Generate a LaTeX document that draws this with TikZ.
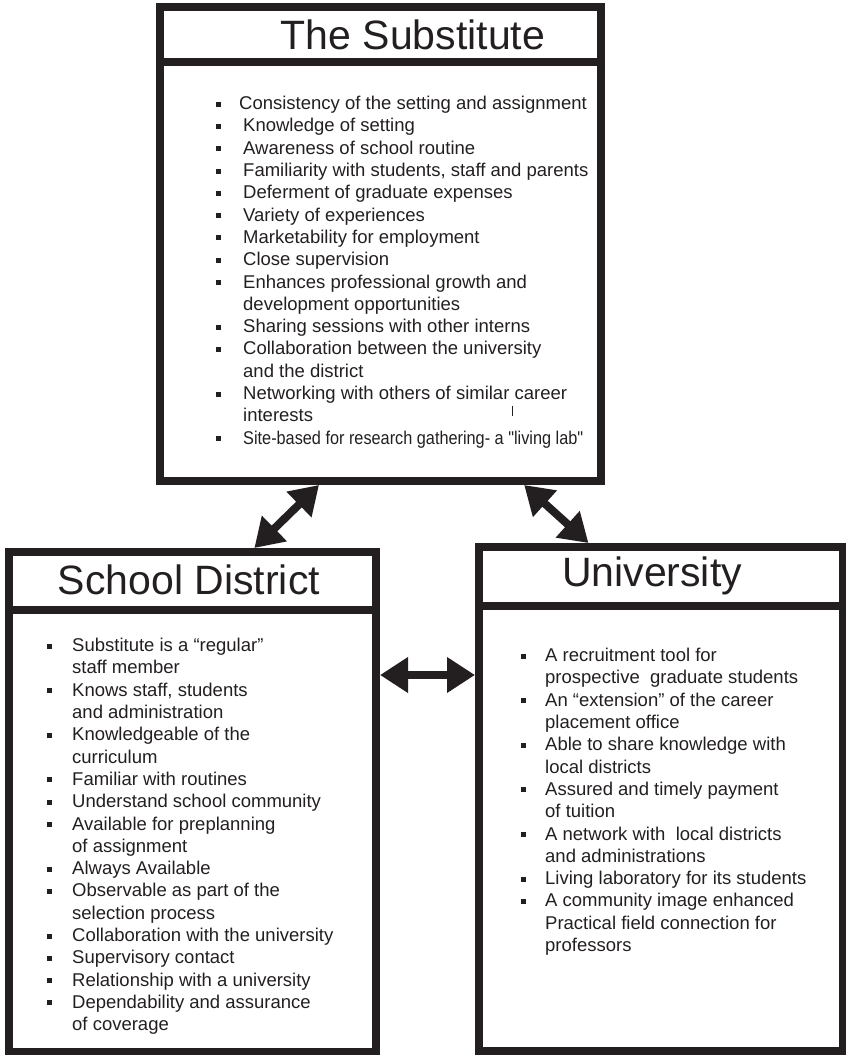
\documentclass[tikz,border=0pt]{standalone}
\usepackage{graphicx}
\usepackage{fontspec}
\setmainfont{Liberation Sans}
\usetikzlibrary{calc,arrows.meta}
\usetikzlibrary{positioning}
\definecolor{ink}{HTML}{231F20}

% square bullet followed by the gap to the item text
\newcommand{\sqb}[1]{\makebox[#1][l]{\rule[3pt]{5pt}{5pt}}}
% straight double quotes, kept out of the tex-text mapping
\newcommand{\sq}[1]{{\addfontfeature{Ligatures=TeXOff}"#1"}}

\begin{document}
\begin{tikzpicture}[x=1pt, y=-1pt,
    box/.style={draw=ink, line width=8pt, inner sep=0pt},
    head/.style={ink, font=\fontsize{41}{41}\selectfont},
    list/.style={ink, align=left, inner sep=0pt, anchor=north west, font=\fontsize{18.5}{22.3}\selectfont},
    link/.style={ink, line width=8pt, {Triangle[width=34pt,length=28pt]}-{Triangle[width=34pt,length=28pt]}}]
    \useasboundingbox (0,0) rectangle (846,1055);

    % Boxes
    \node[box, minimum width=441pt, minimum height=474pt] (sub) at (380.5,244) {};
    \node[box, minimum width=367pt, minimum height=500pt] (sd) at (192.5,802) {};
    \node[box, minimum width=364pt, minimum height=504pt] (uni) at (661,799) {};

    % Header rules
    \coordinate (subrule) at (0,62);
    \coordinate (sdrule) at (0,610);
    \coordinate (unirule) at (0,606);
    \draw[ink, line width=8pt] (sub.west |- subrule) -- (sub.east |- subrule);
    \draw[ink, line width=8pt] (sd.west |- sdrule) -- (sd.east |- sdrule);
    \draw[ink, line width=8pt] (uni.west |- unirule) -- (uni.east |- unirule);

    % Titles
    \node[head] (subtitle) at (413,35) {The Substitute};
    \node[head] (sdtitle) at (189,580) {School District};
    \node[head] (unititle) at (652,576) {University};

    % Lists
    \node[list] (sublist) at (216,96) {%
        \sqb{23pt}Consistency of the setting and assignment\\
        \sqb{27pt}Knowledge of setting\\
        \sqb{27pt}Awareness of school routine\\
        \sqb{27pt}Familiarity with students, staff and parents\\
        \sqb{27pt}Deferment of graduate expenses\\
        \sqb{27pt}Variety of experiences\\
        \sqb{27pt}Marketability for employment\\
        \sqb{27pt}Close supervision\\
        \sqb{27pt}Enhances professional growth and\\
        \hspace*{27pt}development opportunities\\
        \sqb{27pt}Sharing sessions with other interns\\
        \sqb{27pt}Collaboration between the university\\
        \hspace*{27pt}and the district\\
        \sqb{27pt}Networking with others of similar career\\
        \hspace*{27pt}interests\\
        \sqb{27pt}\scalebox{0.88}[1]{Site-based for research gathering- a \sq{living lab}}};
    \node[list] (sdlist) at (47,638) {%
        \sqb{25pt}Substitute is a “regular”\\
        \hspace*{25pt}staff member\\
        \sqb{25pt}Knows staff, students\\
        \hspace*{25pt}and administration\\
        \sqb{25pt}Knowledgeable of the\\
        \hspace*{25pt}curriculum\\
        \sqb{25pt}Familiar with routines\\
        \sqb{25pt}Understand school community\\
        \sqb{25pt}Available for preplanning\\
        \hspace*{25pt}of assignment\\
        \sqb{25pt}Always Available\\
        \sqb{25pt}Observable as part of the\\
        \hspace*{25pt}selection process\\
        \sqb{25pt}Collaboration with the university\\
        \sqb{25pt}Supervisory contact\\
        \sqb{25pt}Relationship with a university\\
        \sqb{25pt}Dependability and assurance\\
        \hspace*{25pt}of coverage};
    \node[list] (unilist) at (521,648) {%
        \sqb{24pt}A recruitment tool for\\
        \hspace*{24pt}prospective \ graduate students\\
        \sqb{24pt}An “extension” of the career\\
        \hspace*{24pt}placement office\\
        \sqb{24pt}Able to share knowledge with\\
        \hspace*{24pt}local districts\\
        \sqb{24pt}Assured and timely payment\\
        \hspace*{24pt}of tuition\\
        \sqb{24pt}A network with \ local districts\\
        \hspace*{24pt}and administrations\\
        \sqb{24pt}Living laboratory for its students\\
        \sqb{24pt}A community image enhanced\\
        \hspace*{24pt}Practical field connection for\\
        \hspace*{24pt}professors};

    % stray tick below the career line
    \draw[ink, line width=0.8pt] (512,406) -- (512,416);

    % Links
    \coordinate (mid) at (0,675);
    \draw[link] ($(sub.south west)!0.363!(sub.south east)$) -- ($(sd.north west)!0.665!(sd.north east)$);
    \draw[link] ($(sub.south west)!0.82!(sub.south east)$) -- ($(uni.north west)!0.305!(uni.north east)$);
    \draw[link] (sd.east |- mid) -- (uni.west |- mid);
\end{tikzpicture}
\end{document}
